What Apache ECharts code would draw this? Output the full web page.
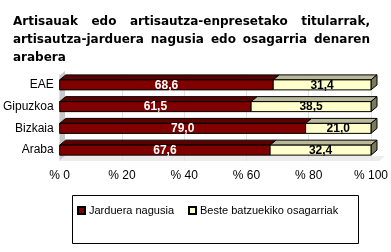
<!DOCTYPE html>
<html><head><meta charset="utf-8">
<script src="https://cdn.jsdelivr.net/npm/echarts@6/dist/echarts.min.js"></script>
<style>html,body{margin:0;padding:0;background:#fff}#c{width:391px;height:252px}</style>
</head><body><div id="c"></div>
<script>
var categories = ['EAE', 'Gipuzkoa', 'Bizkaia', 'Araba'];
var mainValues = [68.6, 61.5, 79.0, 67.6];
var otherValues = [31.4, 38.5, 21.0, 32.4];
var seriesNames = ['Jarduera nagusia', 'Beste batzuekiko osagarriak'];
var tickValues = [0, 20, 40, 60, 80, 100];
var titleLines = ['Artisauak edo artisautza-enpresetako titularrak,', 'artisautza-jarduera nagusia edo osagarria denaren', 'arabera'];

var chart = echarts.init(document.getElementById('c'));

var fmt = function (v) { return v.toFixed(1).replace('.', ','); };

var styles = [
  {front: '#800000', top: '#5c0000', side: '#400000', label: '#ffffff'},
  {front: '#ffffcc', top: '#b9b99a', side: '#7a7a5c', label: '#000000'}
];

function makeData(startArr, valArr) {
  return categories.map(function (c, i) {
    var s = startArr ? startArr[i] : 0;
    return [i, s, s + valArr[i], valArr[i]];
  });
}

function renderer(idx, isLast) {
  return function (params, api) {
    var cat = api.value(0), s = api.value(1), e = api.value(2), v = api.value(3);
    var p0 = api.coord([s, cat]);
    var p1 = api.coord([e, cat]);
    var h = 10, dx = 6, dy = 5;
    var yT = p0[1] - h / 2, yB = p0[1] + h / 2;
    var x0 = p0[0], x1 = p1[0];
    var st = styles[idx];
    var children = [
      {type: 'polygon', shape: {points: [[x0, yT], [x0 + dx, yT - dy], [x1 + dx, yT - dy], [x1, yT]]},
        style: {fill: st.top, stroke: '#000', lineWidth: 1}},
      {type: 'rect', shape: {x: x0, y: yT, width: x1 - x0, height: h},
        style: {fill: st.front, stroke: '#000', lineWidth: 1}},
      {type: 'text', x: (x0 + x1) / 2, y: p0[1] + 0.5,
        style: {text: fmt(v), fill: st.label, font: 'bold 12px "Liberation Sans", Arial, sans-serif',
          align: 'center', verticalAlign: 'middle'}}
    ];
    if (isLast) {
      children.splice(1, 0, {type: 'polygon', shape: {points: [[x1, yT], [x1 + dx, yT - dy], [x1 + dx, yB - dy], [x1, yB]]},
        style: {fill: st.side, stroke: '#000', lineWidth: 1}});
    }
    return {type: 'group', children: children};
  };
}

// justified title via measured word widths
var titleFont = 'bold 12px "DejaVu Sans", Verdana, sans-serif';
var cv = document.createElement('canvas').getContext('2d');
cv.font = titleFont;
var titleGraphics = [];
var tLeft = 13, tRight = 370, baselines = [16, 34, 52];
titleLines.forEach(function (line, li) {
  var words = line.split(' ');
  var justify = li < titleLines.length - 1 && words.length > 1;
  var widths = words.map(function (w) { return cv.measureText(w).width; });
  var total = widths.reduce(function (a, b) { return a + b; }, 0);
  var gap = justify ? (tRight - tLeft - total) / (words.length - 1) : cv.measureText(' ').width;
  var x = tLeft;
  words.forEach(function (w, wi) {
    titleGraphics.push({type: 'text', x: x, y: baselines[li],
      style: {text: w, font: titleFont, fill: '#000', verticalAlign: 'alphabetic'}});
    x += widths[wi] + gap;
  });
});

var option = {
  animation: false,
  grid: {left: 59, right: 12, top: 74, height: 87, containLabel: false},
  xAxis: {
    type: 'value', min: 0, max: 100, interval: 20,
    axisLine: {show: false}, axisTick: {show: false},
    splitLine: {show: true, lineStyle: {color: '#e2e2e2', width: 1}},
    axisLabel: {formatter: function (v) { return '% ' + v; }, color: '#000', margin: 9,
      fontFamily: '"Liberation Sans", Arial, sans-serif', fontSize: 12}
  },
  yAxis: {
    type: 'category', data: categories, inverse: true,
    axisLine: {show: false}, axisTick: {show: false},
    axisLabel: {color: '#000', margin: 6, fontFamily: '"Liberation Sans", Arial, sans-serif', fontSize: 12}
  },
  legend: {
    left: 72, top: 200, itemWidth: 7, itemHeight: 7, itemGap: 14, icon: 'rect',
    data: seriesNames,
    textStyle: {color: '#000', fontFamily: '"Liberation Sans", Arial, sans-serif', fontSize: 11, padding: [0, 0, 0, -1]}
  },
  graphic: [
    {type: 'polygon', z: -1, shape: {points: [[59, 161], [65, 156], [65, 71], [59, 76]]}, style: {fill: '#c8c8c8'}},
    {type: 'polygon', z: -1, shape: {points: [[59, 161], [65, 156], [385, 156], [379, 161]]}, style: {fill: '#ececec'}},
    {type: 'rect', shape: {x: 72.5, y: 195.5, width: 286, height: 48}, style: {fill: 'none', stroke: '#000', lineWidth: 1}}
  ].concat(titleGraphics),
  series: [
    {name: seriesNames[0], type: 'custom', renderItem: renderer(0, false),
      itemStyle: {color: styles[0].front, borderColor: '#000', borderWidth: 1},
      encode: {x: [1, 2], y: 0}, data: makeData(null, mainValues)},
    {name: seriesNames[1], type: 'custom', renderItem: renderer(1, true),
      itemStyle: {color: styles[1].front, borderColor: '#000', borderWidth: 1},
      encode: {x: [1, 2], y: 0}, data: makeData(mainValues, otherValues)}
  ]
};
chart.setOption(option);
</script></body></html>
